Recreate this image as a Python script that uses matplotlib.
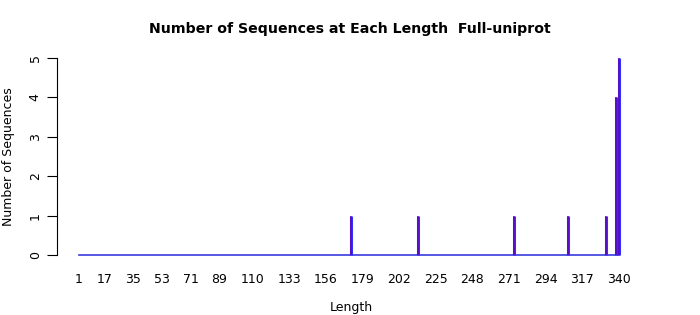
import matplotlib
matplotlib.use("Agg")
import matplotlib.pyplot as plt

# sequence lengths with counts
lengths = [172, 214, 274, 308, 332, 338, 340]
counts = [1, 1, 1, 1, 1, 4, 5]

# x axis tick labels (as printed)
xticks = [1, 17, 35, 53, 71, 89, 110, 133, 156, 179, 202, 225, 248, 271, 294, 317, 340]
yticks = [0, 1, 2, 3, 4, 5]

length_min, length_max = 1, 340

fig = plt.figure(figsize=(7, 3.15), dpi=100)
ax = fig.add_axes([57 / 700, 60 / 315, (640 - 57) / 700, 197 / 315])

# baseline over the whole length range
ax.plot([length_min, length_max], [0, 0], color="#3a3ae0", lw=1.2, clip_on=False)

# height lines: blue underneath, purple on top
ax.vlines(lengths, 0, counts, color="#3030ff", lw=2.2, clip_on=False)
ax.vlines(lengths, 0, counts, color="#6a00a8", lw=1.2, alpha=0.8, clip_on=False)

ax.set_xlim(-12.8, 353.2)
ax.set_ylim(0, 5)

for s in ["top", "right", "bottom"]:
    ax.spines[s].set_visible(False)
ax.spines["left"].set_linewidth(0.8)

ax.set_yticks(yticks)
ax.set_yticklabels([str(v) for v in yticks], rotation=90, va="center", fontsize=9)
ax.tick_params(axis="y", length=7, width=0.8, pad=4)

ax.set_xticks(xticks)
ax.set_xticklabels([str(v) for v in xticks], fontsize=9)
ax.tick_params(axis="x", length=0, pad=13)

fig.text(351 / 700, 1 - 307 / 315, "Length", ha="center", va="center", fontsize=9)
fig.text(9 / 700, 1 - 157 / 315, "Number of Sequences", ha="center", va="center",
         rotation=90, fontsize=9)
fig.text(350 / 700, 1 - 29 / 315, "Number of Sequences at Each Length  Full-uniprot",
         ha="center", va="center", fontsize=10.2, fontweight="bold")

fig.savefig("out.png", dpi=100)
